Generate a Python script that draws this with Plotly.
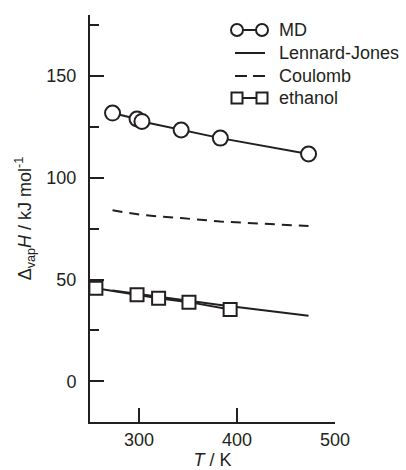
import plotly.graph_objects as go

# Data
T_md = [273, 298, 303, 343, 383, 473]
H_md = [131.8, 128.9, 127.7, 123.5, 119.5, 111.7]
H_lj = [44.6, 43.1, 42.8, 40.1, 37.5, 32.2]
H_coul = [84.0, 82.0, 81.7, 80.2, 78.5, 76.3]
T_eth = [256, 298, 320, 351, 393]
H_eth = [45.7, 42.5, 40.8, 38.9, 35.3]
series_names = ["MD", "Lennard-Jones", "Coulomb", "ethanol"]

INK = "#231f20"
FONT = "Liberation Sans, Arial, Helvetica, sans-serif"
FS = 18

W, H = 406, 470
ML, MR, MT, MB = 90, 71, 15, 48
PW, PH = W - ML - MR, H - MT - MB

fig = go.Figure()
fig.add_trace(go.Scatter(
    x=T_md, y=H_md, name=series_names[0], mode="lines+markers",
    line=dict(color=INK, width=2),
    marker=dict(symbol="circle", size=15, color="white", line=dict(color=INK, width=2)),
    cliponaxis=False))
fig.add_trace(go.Scatter(
    x=T_md, y=H_lj, name=series_names[1], mode="lines",
    line=dict(color=INK, width=2)))
fig.add_trace(go.Scatter(
    x=T_md, y=H_coul, name=series_names[2], mode="lines",
    line=dict(color=INK, width=2, dash="10px,7px")))
fig.add_trace(go.Scatter(
    x=T_eth, y=H_eth, name=series_names[3], mode="lines+markers",
    line=dict(color=INK, width=2),
    marker=dict(symbol="square", size=13, color="white", line=dict(color=INK, width=2)),
    cliponaxis=False))

# Hand-drawn legend (marker-line-marker symbols, as in the reference)
def px(x):
    return (x - ML) / PW

def py(y):
    return (H - MB - y) / PH

shapes = []
annotations = []
row_y = [30, 53, 76, 98]
xa, xb, xt = 237, 262, 277
kinds = ["circle", "line", "dash", "square"]
for name, ry, kind in zip(series_names, row_y, kinds):
    if kind in ("circle", "square", "line"):
        x0, x1 = (xa, xb) if kind != "line" else (xa - 2, xb + 3)
        shapes.append(dict(type="line", xref="paper", yref="paper",
                           x0=px(x0), x1=px(x1), y0=py(ry), y1=py(ry),
                           line=dict(color=INK, width=2), layer="above"))
    if kind == "dash":
        for d0, d1 in [(235, 247), (253, 265)]:
            shapes.append(dict(type="line", xref="paper", yref="paper",
                               x0=px(d0), x1=px(d1), y0=py(ry), y1=py(ry),
                               line=dict(color=INK, width=2), layer="above"))
    if kind in ("circle", "square"):
        r = 6 if kind == "circle" else 5.5
        stype = "circle" if kind == "circle" else "rect"
        for cx in (xa, xb):
            shapes.append(dict(type=stype, xref="paper", yref="paper",
                               xsizemode="pixel", ysizemode="pixel",
                               xanchor=px(cx), yanchor=py(ry),
                               x0=-r, x1=r, y0=-r, y1=r,
                               fillcolor="white", line=dict(color=INK, width=2),
                               layer="above"))
    annotations.append(dict(text=name, xref="paper", yref="paper",
                            x=px(xt), y=py(ry), xanchor="left", yanchor="middle",
                            showarrow=False, font=dict(size=FS, color=INK)))

fig.update_layout(
    width=W, height=H,
    margin=dict(l=ML, r=MR, t=MT, b=MB, autoexpand=False),
    paper_bgcolor="white", plot_bgcolor="white",
    font=dict(family=FONT, size=FS, color=INK),
    showlegend=False,
    shapes=shapes, annotations=annotations,
    xaxis=dict(range=[250, 500], showgrid=False, zeroline=False, automargin=False,
               showline=True, linecolor=INK, linewidth=2,
               ticks="inside", ticklen=14, tickwidth=2, tickcolor=INK,
               tickvals=[300, 400, 500], ticklabelstandoff=0,
               title=dict(text="<i>T</i> / K", standoff=12, font=dict(size=FS))),
    yaxis=dict(range=[-20, 180], showgrid=False, zeroline=False, automargin=False,
               showline=True, linecolor=INK, linewidth=2,
               ticks="inside", ticklen=14, tickwidth=2, tickcolor=INK,
               tickvals=[0, 50, 100, 150], ticklabelstandoff=8,
               minor=dict(tickvals=[25, 75, 125, 175], ticks="inside", ticklen=9,
                          tickwidth=2, tickcolor=INK),
               title=dict(text="Δ<sub>vap</sub><i>H</i> / kJ mol<sup>-1</sup>",
                          standoff=10, font=dict(size=FS))),
)

fig.write_html("out.html")
